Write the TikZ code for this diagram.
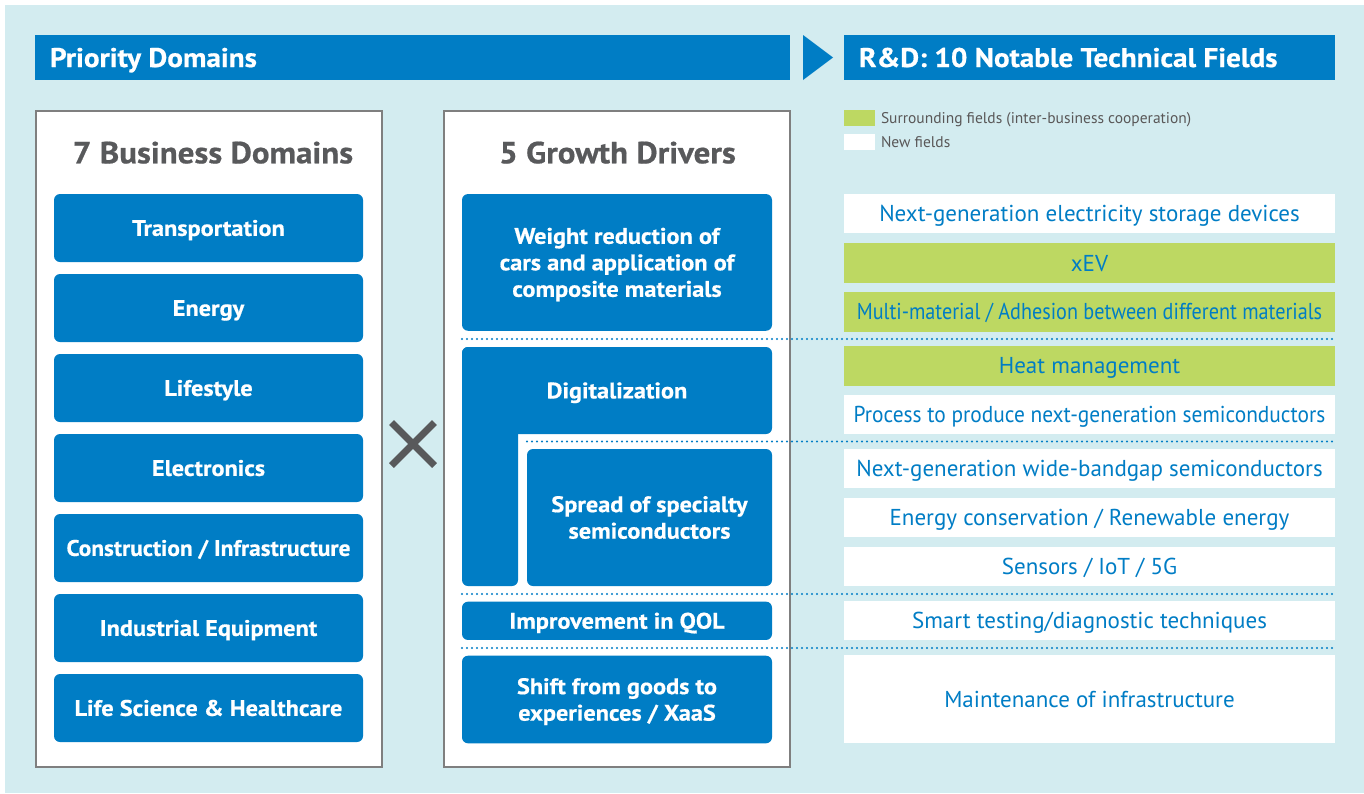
\documentclass[tikz,border=0pt]{standalone}
\usepackage{fontspec}
\usepackage{graphicx}
\setmainfont{PT Sans}[BoldFeatures={FakeStretch=1.08, FakeBold=0.6}]
\definecolor{bgblue}{HTML}{D3ECF0}
\definecolor{mainblue}{HTML}{007DC5}
\definecolor{leafgreen}{HTML}{BDD862}
\definecolor{titlegray}{HTML}{58595B}
\definecolor{panelgray}{HTML}{7F7F7F}
\definecolor{legendgray}{HTML}{595757}
\begin{document}
\begin{tikzpicture}[x=1pt,y=-1pt,
  every node/.style={inner sep=0pt, outer sep=0pt},
  hdrbar/.style={fill=mainblue, minimum height=45pt},
  hdrtext/.style={text=white, font=\bfseries\fontsize{27}{32}\selectfont, anchor=base west},
  panel/.style={draw=panelgray, line width=1.3pt, fill=white},
  paneltitle/.style={text=titlegray, font=\bfseries\fontsize{30.5}{36}\selectfont, anchor=base},
  bluebox/.style={fill=mainblue, rounded corners=6pt, text=white, align=center,
    font=\bfseries\fontsize{22.5}{26.5}\selectfont, text height=15.75pt, text depth=0pt},
  lines2/.style={text height=42.25pt},
  lines3/.style={text height=68.75pt},
  bizbox/.style={bluebox, minimum width=309pt, minimum height=68pt},
  field/.style={fill=white, text=mainblue, minimum width=491pt, minimum height=39.5pt,
    font=\fontsize{23}{27}\selectfont, text height=16.1pt, text depth=0pt},
  sharedfield/.style={field, fill=leafgreen},
  divider/.style={mainblue, line width=2.4pt, line cap=round, dash pattern=on 0pt off 5pt},
  legendtext/.style={text=legendgray, font=\fontsize{15.5}{18}\selectfont, anchor=base west},
  crossbar/.style={titlegray, line width=7pt},
]
\useasboundingbox (0,0) rectangle (1364,793);
\fill[white] (0,0) rectangle (1364,793);
\fill[bgblue] (5,5) rectangle (1364,793);

% header bars
\node[hdrbar, minimum width=755pt] (prio) at (412.5,57.5) {};
\node[hdrtext] (priotext) at (50,67) {Priority Domains};
\fill[mainblue] (803,35) -- (833,57.5) -- (803,80) -- cycle;
\node[hdrbar, minimum width=491pt] (rd) at (1089.5,57.5) {};
\node[hdrtext] (rdtext) at (859,67) {R\&D: 10 Notable Technical Fields};

% panels
\node[panel, minimum width=346pt, minimum height=656pt] (bizpanel) at (209,439) {};
\node[panel, minimum width=346pt, minimum height=656pt] (drvpanel) at (617,439) {};
\node[paneltitle] (biztitle) at (213,163.3) {7 Business Domains};
\node[paneltitle] (drvtitle) at (617.5,163.3) {5 Growth Drivers};

% business domains
\node[bizbox] (d1) at (208.5,228) {Transportation};
\node[bizbox] (d2) at (208.5,308) {Energy};
\node[bizbox] (d3) at (208.5,388) {Lifestyle};
\node[bizbox] (d4) at (208.5,468) {Electronics};
\node[bizbox] (d5) at (208.5,548) {\scalebox{0.962}[1]{Construction / Infrastructure}};
\node[bizbox] (d6) at (208.5,628) {Industrial Equipment};
\node[bizbox] (d7) at (208.5,708) {Life Science \& Healthcare};

% cross sign
\draw[crossbar] (391.5,422.5) -- (434.5,465.5);
\draw[crossbar] (391.5,465.5) -- (434.5,422.5);

% growth drivers
\node[bluebox, lines3, minimum width=310pt, minimum height=136.7pt] (g1) at (617,262.4)
  {Weight reduction of\\cars and application of\\composite materials};
\node[bluebox, minimum width=310pt, minimum height=87pt] (g2) at (617,390.5) {Digitalization};
\node[bluebox, minimum width=56pt, minimum height=239pt] (g2stem) at (490,466.5) {};
\node[bluebox, lines2, minimum width=245pt, minimum height=137pt] (g3) at (649.5,517.5)
  {Spread of specialty\\semiconductors};
\node[bluebox, minimum width=310pt, minimum height=38.3pt] (g4) at (617,620.8) {Improvement in QOL};
\node[bluebox, lines2, minimum width=310pt, minimum height=87.6pt] (g5) at (617,699.5)
  {Shift from goods to\\experiences / XaaS};

% legend
\node[fill=leafgreen, minimum width=31pt, minimum height=16pt] (lg1) at (859.5,118) {};
\node[legendtext] (lg1t) at (881,123.5) {Surrounding fields (inter-business cooperation)};
\node[fill=white, minimum width=31pt, minimum height=16pt] (lg2) at (859.5,142) {};
\node[legendtext] (lg2t) at (881,147.5) {New fields};

% technical fields
\node[field] (f1) at (1089.5,213.7) {Next-generation electricity storage devices};
\node[sharedfield] (f2) at (1089.5,263) {xEV};
\node[sharedfield] (f3) at (1089.5,311.8) {\scalebox{0.877}[1]{Multi-material / Adhesion between different materials}};
\node[sharedfield] (f4) at (1089.5,365.8) {Heat management};
\node[field] (f5) at (1089.5,414.6) {\scalebox{0.93}[1]{Process to produce next-generation semiconductors}};
\node[field] (f6) at (1089.5,468.6) {Next-generation wide-bandgap semiconductors};
\node[field] (f7) at (1089.5,517.6) {Energy conservation / Renewable energy};
\node[field] (f8) at (1089.5,566.4) {Sensors / IoT / 5G};
\node[field] (f9) at (1089.5,620.4) {Smart testing/diagnostic techniques};
\node[field, minimum height=88pt] (f10) at (1089.5,699.3) {Maintenance of infrastructure};

% dotted dividers between driver groups
\draw[divider] (462,339) -- (1335,339);
\draw[divider] (527,441.5) -- (1335,441.5);
\draw[divider] (462,594) -- (1335,594);
\draw[divider] (462,648) -- (1335,648);
\end{tikzpicture}
\end{document}
